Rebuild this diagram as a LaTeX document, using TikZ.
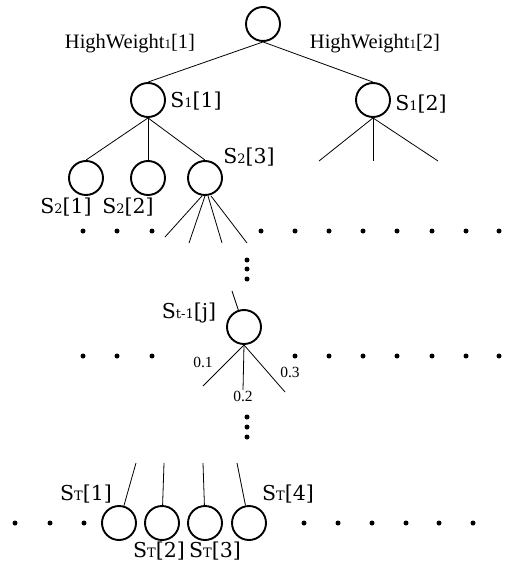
\documentclass[tikz,border=0pt]{standalone}
\usepackage{fontspec}
\setmainfont{Liberation Serif}
\newfontfamily\labfont{DejaVu Serif}
\newcommand\wlab[1]{{\fontsize{20.5}{20.5}\selectfont #1}}
\newcommand\wsm[1]{{\fontsize{13}{13}\selectfont #1}}
\newcommand\slab[2]{{\labfont\fontsize{20.5}{20.5}\selectfont S{\fontsize{13}{13}\selectfont #1}#2}}
\tikzset{
  state/.style={circle, draw, line width=1.9pt, minimum size=34pt, inner sep=0pt},
  edge/.style={line width=0.8pt},
  lab/.style={inner sep=0pt, anchor=center},
  num/.style={inner sep=0pt, font=\fontsize{15.5}{15.5}\selectfont},
  dot/.style={circle, fill, inner sep=0pt, minimum size=5pt},
}
\begin{document}
\begin{tikzpicture}[x=1pt, y=-1pt]
\useasboundingbox (0,0) rectangle (511,569);

% level 0 and level 1
\node[state] (root) at (263,24) {};
\node[state] (s11) at (148,100) {};
\node[state] (s12) at (373,100) {};
\node[lab] (w1) at (130,44) {\wlab{HighWeight\wsm{1}[1]}};
\node[lab] (w2) at (375,44) {\wlab{HighWeight\wsm{1}[2]}};
\node[lab] (l11) at (196,101) {\slab{1}{[1]}};
\node[lab] (l12) at (421,104) {\slab{1}{[2]}};
\draw[edge] (root.south) -- (s11.north);
\draw[edge] (root.south) -- (s12.north);

% level 2
\node[state] (s21) at (86,178) {};
\node[state] (s22) at (148,178) {};
\node[state] (s23) at (205,178) {};
\node[lab] (l21) at (66,207) {\slab{2}{[1]}};
\node[lab] (l22) at (128,207) {\slab{2}{[2]}};
\node[lab] (l23) at (249,157) {\slab{2}{[3]}};
\draw[edge] (s11.south) -- (s21.north);
\draw[edge] (s11.south) -- (s22.north);
\draw[edge] (s11.south) -- (s23.north);

% open branches below S1[2]
\coordinate (b1) at (319,161);
\coordinate (b2) at (373,161);
\coordinate (b3) at (438,161);
\draw[edge] (s12.south) -- (b1);
\draw[edge] (s12.south) -- (b2);
\draw[edge] (s12.south) -- (b3);

% open branches below S2[3]
\coordinate (c1) at (165,237);
\coordinate (c2) at (189,243);
\coordinate (c3) at (222,243);
\coordinate (c4) at (247,243);
\draw[edge] ([xshift=-3pt]s23.south) -- (c1);
\draw[edge] ([xshift=0pt]s23.south) -- (c2);
\draw[edge] ([xshift=3pt]s23.south) -- (c3);
\draw[edge] ([xshift=6pt]s23.south) -- (c4);

% first row of dots
\foreach \x in {83,117,152,261,295,329,363,397,432,466,499}
  \node[dot] at (\x,231) {};
% vertical dots
\foreach \y in {260,269,279}
  \node[dot] at (247,\y) {};

% level t-1
\node[state] (stj) at (244,327) {};
\node[lab] (ltj) at (189,313) {\slab{t-1}{[j]}};
\coordinate (u) at (232,291);
\draw[edge] (u) -- (stj);

% second row of dots
\foreach \x in {83,117,152,295,329,363,397,432,466,499}
  \node[dot] at (\x,356) {};

% weighted branches
\coordinate (d1) at (203,386);
\coordinate (d2) at (243,390);
\coordinate (d3) at (285,392);
\draw[edge] (stj.south) -- (d1);
\draw[edge] (stj.south) -- (d2);
\draw[edge] (stj.south) -- (d3);
\node[num] (n1) at (203,362) {0.1};
\node[num] (n2) at (243,396) {0.2};
\node[num] (n3) at (290,372) {0.3};

% vertical dots
\foreach \y in {417,427,437}
  \node[dot] at (247,\y) {};

% level T
\node[state] (st1) at (119,523) {};
\node[state] (st2) at (162,523) {};
\node[state] (st3) at (205,523) {};
\node[state] (st4) at (249,523) {};
\coordinate (e1) at (136,463);
\coordinate (e2) at (164,463);
\coordinate (e3) at (203,463);
\coordinate (e4) at (237,463);
\draw[edge] (e1) -- (st1);
\draw[edge] (e2) -- (st2);
\draw[edge] (e3) -- (st3);
\draw[edge] (e4) -- (st4);
\node[lab] (lt1) at (86,494) {\slab{T}{[1]}};
\node[lab] (lt2) at (159,551) {\slab{T}{[2]}};
\node[lab] (lt3) at (215,551) {\slab{T}{[3]}};
\node[lab] (lt4) at (288,494) {\slab{T}{[4]}};

% third row of dots
\foreach \x in {15,50,84,304,338,372,406,439,473}
  \node[dot] at (\x,523) {};
\end{tikzpicture}
\end{document}
